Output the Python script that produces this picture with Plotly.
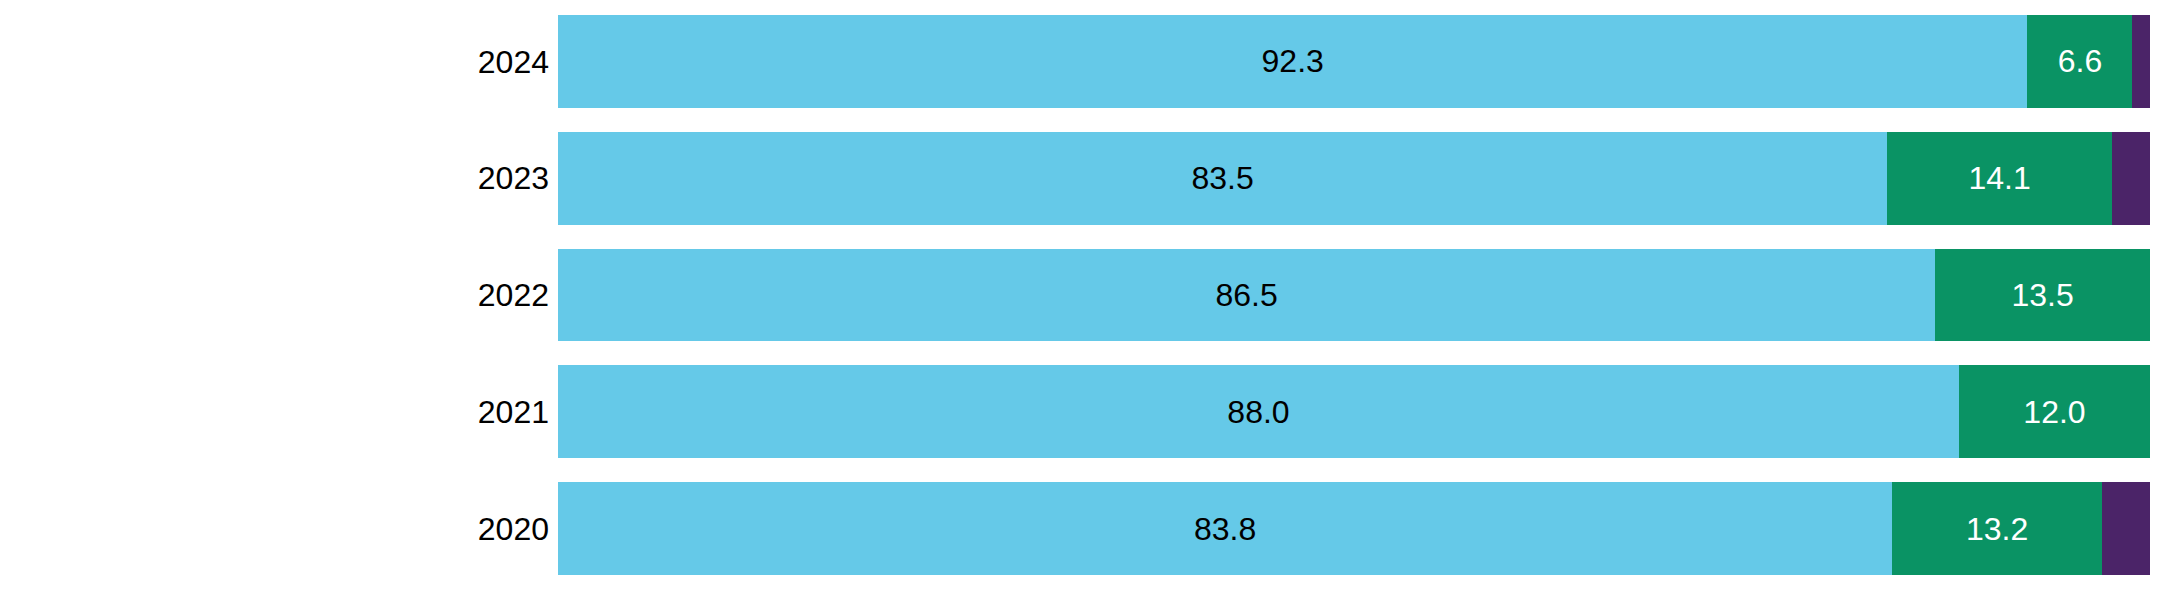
import plotly.graph_objects as go

years = ["2020", "2021", "2022", "2023", "2024"]
series_a = [83.8, 88.0, 86.5, 83.5, 92.3]
series_b = [13.2, 12.0, 13.5, 14.1, 6.6]
series_c = [3.0, 0.0, 0.0, 2.4, 1.1]

col_a = "#65C9E8"
col_b = "#0A9364"
col_c = "#4B2468"

fig = go.Figure()
fig.add_trace(go.Bar(
    y=years, x=series_a, orientation="h", marker=dict(color=col_a, line=dict(width=0)),
    text=[f"{v:.1f}" for v in series_a], textposition="inside", insidetextanchor="middle",
    textfont=dict(color="black", size=32, family="Liberation Sans, Arial"),
    hoverinfo="skip",
))
fig.add_trace(go.Bar(
    y=years, x=series_b, orientation="h", marker=dict(color=col_b, line=dict(width=0)),
    text=[f"{v:.1f}" for v in series_b], textposition="inside", insidetextanchor="middle",
    textfont=dict(color="white", size=32, family="Liberation Sans, Arial"),
    hoverinfo="skip",
))
fig.add_trace(go.Bar(
    y=years, x=series_c, orientation="h", marker=dict(color=col_c, line=dict(width=0)),
    textposition="none", hoverinfo="skip",
))

fig.update_layout(
    barmode="stack",
    bargap=0.206,
    width=2165, height=583,
    margin=dict(l=550, r=23, t=0, b=0),
    plot_bgcolor="white", paper_bgcolor="white",
    showlegend=False,
    font=dict(family="Liberation Sans, Arial", color="black"),
    xaxis=dict(range=[0, 100], visible=False, showgrid=False, zeroline=False),
    yaxis=dict(showgrid=False, zeroline=False, showline=False, ticks="",
               range=[-0.534, 4.457],
               tickfont=dict(size=32, color="black"), ticklabelstandoff=8),
)

fig.write_html("out.html")
